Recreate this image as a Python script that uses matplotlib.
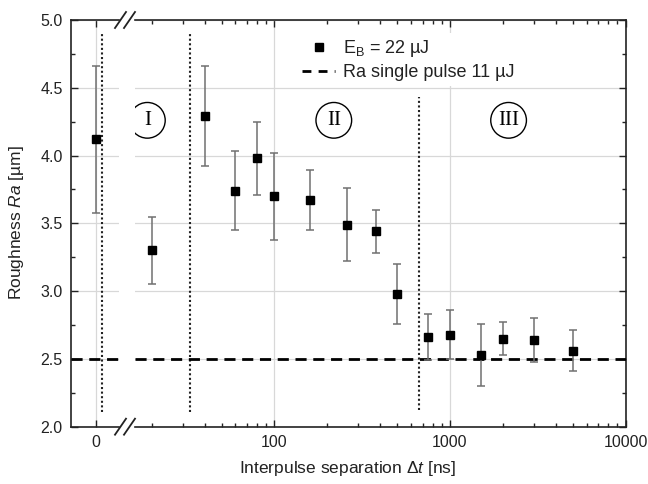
import matplotlib
matplotlib.use("Agg")
import matplotlib.pyplot as plt
from matplotlib.lines import Line2D
from matplotlib.ticker import MultipleLocator, LogLocator, FuncFormatter, NullFormatter, FixedLocator

plt.rcParams['font.family'] = ['Liberation Sans', 'DejaVu Sans']
plt.rcParams['mathtext.fontset'] = 'custom'
plt.rcParams['mathtext.rm'] = 'Liberation Sans'
plt.rcParams['mathtext.it'] = 'Liberation Sans:italic'

# ---------------- data ----------------
x_zero = [0]
ra_zero = [4.12]
err_zero = [0.54]

x_sep = [20, 40, 60, 80, 100, 160, 260, 380, 500, 750, 1000, 1500, 2000, 3000, 5000]
ra_sep = [3.30, 4.29, 3.74, 3.98, 3.70, 3.67, 3.49, 3.44, 2.98, 2.66, 2.68, 2.53, 2.65, 2.64, 2.56]
err_sep = [0.25, 0.37, 0.29, 0.27, 0.32, 0.22, 0.27, 0.16, 0.22, 0.17, 0.18, 0.23, 0.12, 0.16, 0.15]

ref_ra = 2.5                      # Ra single pulse 11 uJ
bound_lin = [2.4]                 # region boundary in linear (near-zero) part
bound_log = [33, 670]             # region boundaries in log part
bound_top = [4.90, 4.90, 4.43]
bound_bot = [2.11, 2.11, 2.12]
region_x = [18.9, 218, 2158]
region_y = [4.26, 4.26, 4.26]
region_names = ["I", "II", "III"]

xticks_lin = [0]
xticks_log = [100, 1000, 10000]

# ---------------- layout ----------------
W, H = 648, 484
fig = plt.figure(figsize=(W / 100, H / 100), dpi=100)
top, bot = 20, 426.7
lx0, lx1 = 71, 119
rx0, rx1 = 135, 625.5
axL = fig.add_axes([lx0 / W, 1 - bot / H, (lx1 - lx0) / W, (bot - top) / H])
axR = fig.add_axes([rx0 / W, 1 - bot / H, (rx1 - rx0) / W, (bot - top) / H])

txt_col = '#222222'
grid_col = '#d8d8d8'
err_col = '#707070'

for ax in (axL, axR):
    ax.set_ylim(2.0, 5.0)
    ax.yaxis.set_major_locator(MultipleLocator(0.5))
    ax.yaxis.set_minor_locator(MultipleLocator(0.25))
    ax.grid(True, which='major', color=grid_col, lw=0.9, zorder=0)
    ax.set_axisbelow(True)
    ax.tick_params(which='both', direction='in', top=True, bottom=True,
                   colors='#222222', labelcolor=txt_col, labelsize=11.5, pad=6)
    ax.tick_params(which='major', length=5, width=1)
    ax.tick_params(which='minor', length=3, width=1)
    for s in ax.spines.values():
        s.set_linewidth(1.2)
        s.set_color('#222222')

axL.set_xlim(-10, 9.43)
axL.xaxis.set_major_locator(FixedLocator(xticks_lin))
axL.xaxis.set_minor_locator(FixedLocator([]))
axL.spines['right'].set_visible(False)
axL.tick_params(axis='y', which='both', left=True, right=False)
axL.yaxis.set_major_formatter(FuncFormatter(lambda v, p: f"{v:.1f}"))

axR.set_xscale('log')
axR.set_xlim(16.07, 10000)
axR.xaxis.set_major_locator(FixedLocator(xticks_log))
axR.xaxis.set_minor_locator(LogLocator(base=10, subs=range(2, 10), numticks=20))
axR.xaxis.set_major_formatter(FuncFormatter(lambda v, p: f"{v:g}"))
axR.xaxis.set_minor_formatter(NullFormatter())
axR.spines['left'].set_visible(False)
axR.tick_params(axis='y', which='both', left=False, right=True, labelleft=False)

# reference line
for ax in (axL, axR):
    ax.axhline(ref_ra, color='black', lw=2, dashes=(4, 2.4), zorder=3)

# region boundaries
dot_kw = dict(color='#222222', lw=1.5, linestyles=(0, (1.0, 1.2)), zorder=2)
axL.vlines(bound_lin, bound_bot[:1], bound_top[:1], **dot_kw)
axR.vlines(bound_log, bound_bot[1:], bound_top[1:], **dot_kw)

# data
eb_kw = dict(fmt='s', color='black', ms=6, ecolor=err_col, elinewidth=1.1,
             capsize=3, capthick=1.1, zorder=4)
axL.errorbar(x_zero, ra_zero, yerr=err_zero, **eb_kw)
axR.errorbar(x_sep, ra_sep, yerr=err_sep, **eb_kw)

# region labels
axR.scatter(region_x, region_y, s=660, marker='o', facecolors='none',
            edgecolors='black', linewidths=1.0, zorder=4)
for xx, yy, name in zip(region_x, region_y, region_names):
    axR.text(xx, yy, name, ha='center', va='center', family='Liberation Serif',
             fontsize=15, color='black', zorder=5)

# legend
handles = [Line2D([], [], marker='s', color='black', ls='none', ms=6),
           Line2D([], [], color='black', lw=2, dashes=(3.2, 2.6))]
labels = [r"E$_\mathrm{B}$ = 22 µJ", "Ra single pulse 11 µJ"]
leg = axR.legend(handles, labels, loc='upper left',
                 bbox_to_anchor=(297 / W, 1 - 33 / H), bbox_transform=fig.transFigure,
                 frameon=True, fontsize=13, handlelength=1.8, handletextpad=0.45,
                 labelspacing=0.25, borderpad=0.3, borderaxespad=0)
leg.get_frame().set_facecolor('white')
leg.get_frame().set_edgecolor('none')
leg.get_frame().set_alpha(1)
for t in leg.get_texts():
    t.set_color(txt_col)

# axis break marks
def slash(x0, y0, x1, y1):
    fig.add_artist(Line2D([x0 / W, x1 / W], [1 - y0 / H, 1 - y1 / H],
                          transform=fig.transFigure, color='#222222', lw=1.3))

for yc in (top, bot):
    slash(115, yc + 8, 126, yc - 8)
    slash(124, yc + 8, 135, yc - 8)

# axis labels
fig.text(348 / W, 1 - 468 / H, r"Interpulse separation $\Delta t$ [ns]",
         ha='center', va='center', fontsize=12.5, color=txt_col)
fig.text(17 / W, 1 - 223 / H, r"Roughness $Ra$ [µm]", rotation=90,
         ha='center', va='center', fontsize=12.5, color=txt_col)

fig.savefig("out.png", dpi=100)
